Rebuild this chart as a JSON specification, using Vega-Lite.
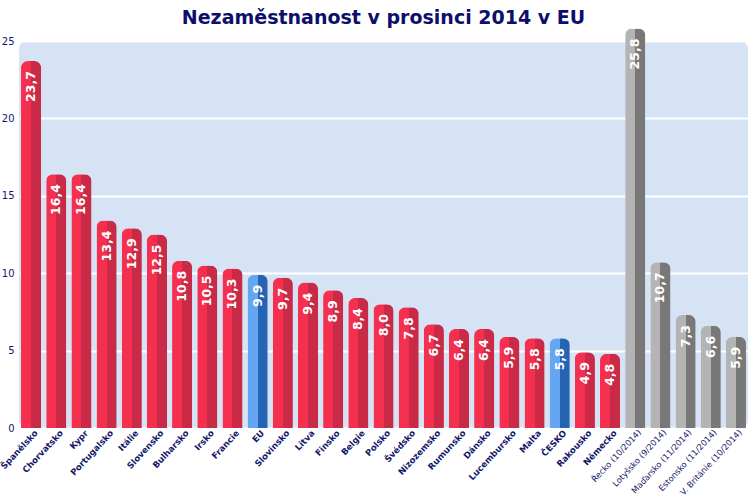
{
  "$schema": "https://vega.github.io/schema/vega-lite/v6.json",
  "width": 729,
  "height": 387,
  "autosize": {"type": "none"},
  "padding": {"left": 19, "top": 41, "right": 0, "bottom": 69},
  "title": {
    "text": "Nezaměstnanost v prosinci 2014 v EU",
    "font": "DejaVu Sans",
    "fontSize": 19,
    "fontWeight": "bold",
    "color": "#0d0f6b",
    "anchor": "middle",
    "offset": 1
  },
  "config": {
    "locale": {"number": {"decimal": ",", "thousands": " ", "grouping": [3], "currency": ["", " Kč"]}},
    "view": {"fill": "#d5e3f4", "stroke": null, "cornerRadius": 8}
  },
  "data": {
    "values": [
      {"country": "Španělsko", "value": 23.7, "group": "red"},
      {"country": "Chorvatsko", "value": 16.4, "group": "red"},
      {"country": "Kypr", "value": 16.4, "group": "red"},
      {"country": "Portugalsko", "value": 13.4, "group": "red"},
      {"country": "Itálie", "value": 12.9, "group": "red"},
      {"country": "Slovensko", "value": 12.5, "group": "red"},
      {"country": "Bulharsko", "value": 10.8, "group": "red"},
      {"country": "Irsko", "value": 10.5, "group": "red"},
      {"country": "Francie", "value": 10.3, "group": "red"},
      {"country": "EU", "value": 9.9, "group": "blue"},
      {"country": "Slovinsko", "value": 9.7, "group": "red"},
      {"country": "Litva", "value": 9.4, "group": "red"},
      {"country": "Finsko", "value": 8.9, "group": "red"},
      {"country": "Belgie", "value": 8.4, "group": "red"},
      {"country": "Polsko", "value": 8.0, "group": "red"},
      {"country": "Švédsko", "value": 7.8, "group": "red"},
      {"country": "Nizozemsko", "value": 6.7, "group": "red"},
      {"country": "Rumunsko", "value": 6.4, "group": "red"},
      {"country": "Dánsko", "value": 6.4, "group": "red"},
      {"country": "Lucembursko", "value": 5.9, "group": "red"},
      {"country": "Malta", "value": 5.8, "group": "red"},
      {"country": "ČESKO", "value": 5.8, "group": "blue"},
      {"country": "Rakousko", "value": 4.9, "group": "red"},
      {"country": "Německo", "value": 4.8, "group": "red"},
      {"country": "Řecko (10/2014)", "value": 25.8, "group": "gray"},
      {"country": "Lotyšsko (9/2014)", "value": 10.7, "group": "gray"},
      {"country": "Maďarsko (11/2014)", "value": 7.3, "group": "gray"},
      {"country": "Estonsko (11/2014)", "value": 6.6, "group": "gray"},
      {"country": "V. Británie (10/2014)", "value": 5.9, "group": "gray"}
    ]
  },
  "encoding": {
    "x": {
      "field": "country",
      "type": "nominal",
      "sort": null,
      "scale": {
        "domain": ["Španělsko", "Chorvatsko", "Kypr", "Portugalsko", "Itálie", "Slovensko", "Bulharsko", "Irsko", "Francie", "EU", "Slovinsko", "Litva", "Finsko", "Belgie", "Polsko", "Švédsko", "Nizozemsko", "Rumunsko", "Dánsko", "Lucembursko", "Malta", "ČESKO", "Rakousko", "Německo", "Řecko (10/2014)", "Lotyšsko (9/2014)", "Maďarsko (11/2014)", "Estonsko (11/2014)", "V. Británie (10/2014)"],
        "paddingInner": 0.2,
        "paddingOuter": 0.08
      },
      "axis": {
        "title": null,
        "labelAngle": -47,
        "labelAlign": "right",
        "labelBaseline": "middle",
        "labelFont": "DejaVu Sans",
        "labelFontSize": {"condition": {"test": "indexof(datum.value, '(') >= 0", "value": 8.3}, "value": 8.6},
        "labelColor": "#14186a",
        "labelFontWeight": {"condition": {"test": "indexof(datum.value, '(') >= 0", "value": "normal"}, "value": "bold"},
        "labelPadding": 3,
        "labelOffset": 5,
        "labelOverlap": false,
        "ticks": false,
        "domain": false,
        "grid": false
      }
    },
    "y": {
      "field": "value",
      "type": "quantitative",
      "scale": {"domain": [0, 25], "nice": false},
      "axis": {
        "title": null,
        "values": [0, 5, 10, 15, 20, 25],
        "labelFont": "DejaVu Sans",
        "labelFontSize": 10,
        "labelColor": "#14186a",
        "labelPadding": 5,
        "ticks": false,
        "domain": false,
        "gridColor": "white",
        "gridWidth": 2,
        "gridOpacity": 1
      }
    }
  },
  "layer": [
    {
      "transform": [{"filter": "datum.group == 'red'"}],
      "mark": {
        "type": "bar",
        "cornerRadiusTopLeft": 7,
        "cornerRadiusTopRight": 7,
        "fill": {"gradient": "linear", "x1": 0, "x2": 1, "y1": 0, "y2": 0,
          "stops": [{"offset": 0, "color": "#f5304e"}, {"offset": 0.5, "color": "#f5304e"}, {"offset": 0.5, "color": "#c82a48"}, {"offset": 1, "color": "#c82a48"}]}
      }
    },
    {
      "transform": [{"filter": "datum.group == 'blue'"}],
      "mark": {
        "type": "bar",
        "cornerRadiusTopLeft": 7,
        "cornerRadiusTopRight": 7,
        "fill": {"gradient": "linear", "x1": 0, "x2": 1, "y1": 0, "y2": 0,
          "stops": [{"offset": 0, "color": "#64a6f2"}, {"offset": 0.5, "color": "#64a6f2"}, {"offset": 0.5, "color": "#2563b3"}, {"offset": 1, "color": "#2563b3"}]}
      }
    },
    {
      "transform": [{"filter": "datum.group == 'gray'"}],
      "mark": {
        "type": "bar",
        "cornerRadiusTopLeft": 7,
        "cornerRadiusTopRight": 7,
        "fill": {"gradient": "linear", "x1": 0, "x2": 1, "y1": 0, "y2": 0,
          "stops": [{"offset": 0, "color": "#b4b4b4"}, {"offset": 0.5, "color": "#b4b4b4"}, {"offset": 0.5, "color": "#787878"}, {"offset": 1, "color": "#787878"}]}
      }
    },
    {
      "mark": {
        "type": "text",
        "angle": 270,
        "align": "right",
        "baseline": "middle",
        "yOffset": 10,
        "font": "DejaVu Sans",
        "fontSize": 12.5,
        "fontWeight": "bold",
        "color": "white"
      },
      "encoding": {
        "text": {"field": "value", "type": "quantitative", "format": ".1f"}
      }
    }
  ]
}
